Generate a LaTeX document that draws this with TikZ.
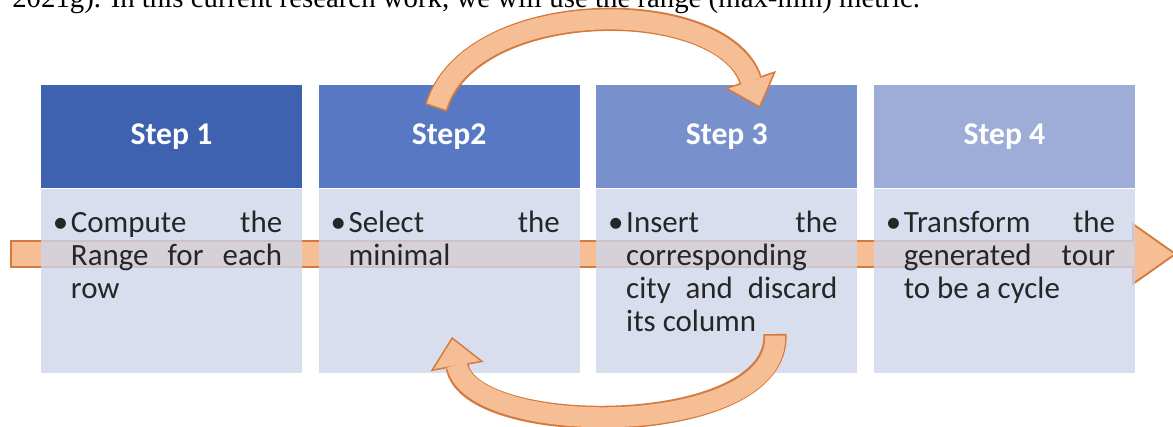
\documentclass[tikz,border=0pt]{standalone}
\usepackage{fontspec}
\setmainfont{Carlito}
\newfontfamily\pagefont{Liberation Serif}
\usetikzlibrary{positioning, arrows.meta}

\definecolor{stepone}{HTML}{3F62B0}
\definecolor{steptwo}{HTML}{5878C4}
\definecolor{stepthree}{HTML}{7891CC}
\definecolor{stepfour}{HTML}{9DADD7}
\definecolor{bodyfill}{HTML}{CFD6EA}
\definecolor{textgray}{HTML}{262626}
\definecolor{arrowfill}{HTML}{F6BE95}
\definecolor{arrowline}{HTML}{D47A3C}

\newcommand{\stepitem}[1]{\parbox[t]{5.73cm}{\hyphenpenalty=10000
    \tolerance=10000\hangindent=0.45cm\hangafter=1
    \noindent\makebox[0.45cm][l]{\textbullet}#1}}

\tikzstyle{stephead} = [
    rectangle,
    minimum width=6.525cm,
    minimum height=2.575cm,
    inner sep=0pt,
    text=white,
    font=\fontsize{22.5}{26}\selectfont\bfseries
]
\tikzstyle{stepbody} = [
    rectangle,
    minimum width=6.525cm,
    minimum height=4.6cm,
    inner sep=0pt,
    fill=bodyfill,
    fill opacity=0.8
]
\tikzstyle{steptext} = [
    inner sep=0pt,
    text=textgray,
    font=\fontsize{22}{23.5}\selectfont
]
\tikzstyle{bandout} = [line width=0.72cm, draw=arrowline,
    -{Triangle[width=1.58cm,length=1.12cm,line width=0pt]}]
\tikzstyle{bandin} = [line width=0.62cm, draw=arrowfill,
    shorten <=0.05cm, shorten >=0.086cm,
    -{Triangle[width=1.38cm,length=0.98cm,line width=0pt]}]
\tikzstyle{loopout} = [line width=0.58cm, draw=arrowline,
    -{Triangle[width=1.35cm,length=0.75cm,line width=0pt]}]
\tikzstyle{loopin} = [line width=0.5cm, draw=arrowfill,
    shorten <=0.04cm, shorten >=0.06cm,
    -{Triangle[width=1.17cm,length=0.65cm,line width=0pt]}]

\begin{document}
\begin{tikzpicture}[x=0.025cm, y=-0.025cm]
\useasboundingbox (0,0) rectangle (1173,427);

% line of the page above the figure
\node (intro) [anchor=base west, inner sep=0pt,
    font=\pagefont\fontsize{20.5}{24}\selectfont] at (12,8)
{2021g). In this current research work, we will use the range (max-min) metric.};

% band behind the steps
\coordinate (bandstart) at (10,254);
\coordinate (bandend) at (1177,254);
\draw [bandout] (bandstart) -- (bandend);
\draw [bandin] (bandstart) -- (bandend);

\node (head1) [stephead, fill=stepone] at (171.5,136.5) {Step 1};
\node (head2) [stephead, fill=steptwo, right=0.4cm of head1] {Step2};
\node (head3) [stephead, fill=stepthree, right=0.4cm of head2] {Step 3};
\node (head4) [stephead, fill=stepfour, right=0.4cm of head3] {Step 4};

\node (body1) [stepbody, below=0pt of head1] {};
\node (body2) [stepbody, below=0pt of head2] {};
\node (body3) [stepbody, below=0pt of head3] {};
\node (body4) [stepbody, below=0pt of head4] {};

\node (text1) [steptext, below right=0.55cm and 0.3cm of body1.north west]
{\stepitem{Compute the Range for each row}};
\node (text2) [steptext, below right=0.55cm and 0.3cm of body2.north west]
{\stepitem{Select the minimal}};
\node (text3) [steptext, below right=0.55cm and 0.3cm of body3.north west]
{\stepitem{Insert the corresponding city and discard its column}};
\node (text4) [steptext, below right=0.55cm and 0.3cm of body4.north west]
{\stepitem{Transform the generated tour to be a cycle}};

% loop arrows between step 2 and step 3
\coordinate (loopatail) at (436,108);
\coordinate (loopahead) at (760,108);
\draw [loopout] (loopatail) .. controls (470,-5) and (722,-5) .. (loopahead);
\draw [loopin] (loopatail) .. controls (470,-5) and (722,-5) .. (loopahead);

\coordinate (loopbtail) at (775,334);
\coordinate (loopbhead) at (452,337);
\draw [loopout] (loopbtail) .. controls (780,439) and (470,439) .. (loopbhead);
\draw [loopin] (loopbtail) .. controls (780,439) and (470,439) .. (loopbhead);

\end{tikzpicture}
\end{document}
